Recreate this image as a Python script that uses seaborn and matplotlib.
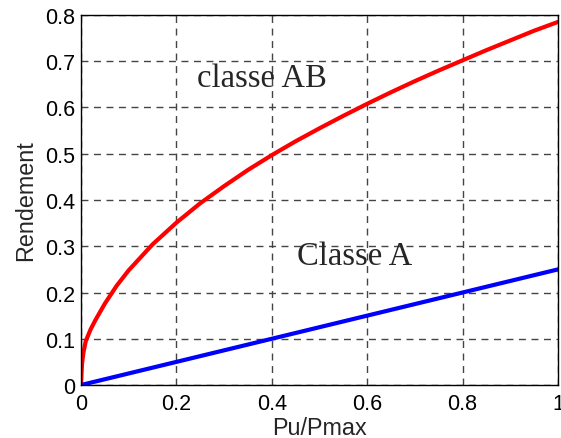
import numpy as np
import pandas as pd
import matplotlib
matplotlib.use("Agg")
import matplotlib.pyplot as plt
import seaborn as sns

# Values
pu_ab = [0.0, 0.002, 0.005, 0.01, 0.02, 0.03, 0.05, 0.075, 0.1, 0.15, 0.2, 0.25, 0.3, 0.35,
         0.4, 0.45, 0.5, 0.55, 0.6, 0.65, 0.7, 0.75, 0.8, 0.85, 0.9, 0.95, 1.0]
eta_ab = [0.0, 0.045, 0.07, 0.095, 0.12, 0.14, 0.176, 0.215, 0.248, 0.304, 0.351, 0.393,
          0.430, 0.465, 0.497, 0.527, 0.555, 0.582, 0.608, 0.633, 0.657, 0.680, 0.702, 0.724,
          0.745, 0.766, 0.785]
pu_a = [0.0, 0.2, 0.4, 0.6, 0.8, 1.0]
eta_a = [0.0, 0.05, 0.10, 0.15, 0.20, 0.25]

xticks = [0, 0.2, 0.4, 0.6, 0.8, 1]
xticklabels = ["0", "0.2", "0.4", "0.6", "0.8", "1"]
yticks = [0, 0.1, 0.2, 0.3, 0.4, 0.5, 0.6, 0.7, 0.8]
yticklabels = ["0", "0.1", "0.2", "0.3", "0.4", "0.5", "0.6", "0.7", "0.8"]

df_ab = pd.DataFrame({"x": pu_ab, "y": eta_ab})
df_a = pd.DataFrame({"x": pu_a, "y": eta_a})

sns.set_style("white")
plt.rcParams["font.family"] = ["Liberation Sans", "DejaVu Sans"]

fig = plt.figure(figsize=(5.61, 4.39), dpi=100)
ax = fig.add_axes([0.1444, 0.1207, 0.8503, 0.8429])

sns.lineplot(data=df_ab, x="x", y="y", ax=ax, color="#ff0000", linewidth=3.0, sort=False)
sns.lineplot(data=df_a, x="x", y="y", ax=ax, color="#0000ff", linewidth=3.0, sort=False)

ax.set_xlim(0, 1)
ax.set_ylim(0, 0.8)
ax.set_xticks(xticks)
ax.set_xticklabels(xticklabels)
ax.set_yticks(yticks)
ax.set_yticklabels(yticklabels)
ax.tick_params(axis="both", labelsize=15.5, colors="black", direction="in", length=0)
ax.tick_params(axis="x", pad=6)
ax.tick_params(axis="y", pad=4)
ax.grid(True, color="#444444", linestyle=(0, (5, 4)), linewidth=1.0)
for s in ax.spines.values():
    s.set_color("black")
    s.set_linewidth(1.0)
ax.set_xlabel("Pu/Pmax", fontsize=16.8, labelpad=1)
ax.set_ylabel("Rendement", fontsize=16.8, labelpad=6)

ax.text(0.38, 0.665, "classe AB", fontsize=23.5, family=["Liberation Serif", "DejaVu Serif"],
        ha="center", va="center")
ax.text(0.574, 0.279, "Classe A", fontsize=23.5, family=["Liberation Serif", "DejaVu Serif"],
        ha="center", va="center")

fig.savefig("out.png", dpi=100, facecolor="white")
